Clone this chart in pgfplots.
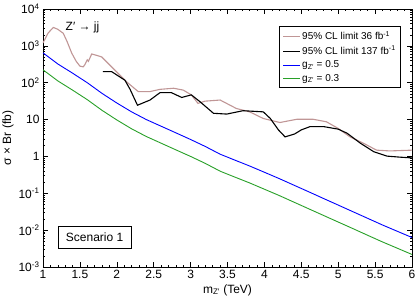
\documentclass[border=0pt]{standalone}
\usepackage{pgfplots}
\pgfplotsset{compat=1.18}
\usepackage{fontspec}
\setmainfont{Liberation Sans}
\definecolor{brownl}{RGB}{192,150,150}
\definecolor{greenl}{RGB}{40,160,40}
\begin{document}
\begin{tikzpicture}
\begin{axis}[
  scale only axis, width=369pt, height=258pt,
  xmin=1, xmax=6, ymode=log, ymin=1e-3, ymax=1e4,
  xtick={1,1.5,2,2.5,3,3.5,4,4.5,5,5.5,6},
  xticklabels={1,1.5,2,2.5,3,3.5,4,4.5,5,5.5,6},
  minor x tick num=4,
  ytick={1e-3,1e-2,1e-1,1,10,100,1000,10000},
  yticklabels={10\textsuperscript{-3},10\textsuperscript{-2},10\textsuperscript{-1},1,10,10\textsuperscript{2},10\textsuperscript{3},10\textsuperscript{4}},
  minor ytick={0.002,0.003,0.004,0.005,0.006,0.007,0.008,0.009,
    0.02,0.03,0.04,0.05,0.06,0.07,0.08,0.09,
    0.2,0.3,0.4,0.5,0.6,0.7,0.8,0.9,
    2,3,4,5,6,7,8,9,
    20,30,40,50,60,70,80,90,
    200,300,400,500,600,700,800,900,
    2000,3000,4000,5000,6000,7000,8000,9000},
  tick align=inside,
  major tick length=5pt, minor tick length=2.5pt,
  tick style={black, line width=0.5pt},
  every tick label/.append style={font=\fontsize{12}{14}\selectfont},
  /pgf/number format/assume math mode=true,
  xlabel={m\textsubscript{Z′} (TeV)},
  ylabel={σ × Br (fb)},
  xlabel style={at={(axis description cs:0.5,-0.089)}, anchor=center, font=\fontsize{12}{14}\selectfont},
  ylabel style={at={(axis description cs:-0.095,0.5)}, anchor=center, font=\fontsize{12}{14}\selectfont},
  legend style={at={(0.969,0.934)}, anchor=north east, draw=black, line width=0.6pt,
     font=\fontsize{10}{12}\selectfont, row sep=1.6pt, inner xsep=3pt, inner ysep=3.5pt,
     nodes={inner sep=1.6pt}},
  legend cell align=left,
  legend image code/.code={\draw[#1] plot coordinates {(0pt,0pt) (17pt,0pt)};},
  axis line style={line width=0.6pt},
]
\addplot[brownl, line width=1.1pt] coordinates {
(1.00,1202) (1.07,2239) (1.14,3162) (1.20,2818) (1.275,2188) (1.33,1259) (1.39,631)
(1.45,380) (1.50,282) (1.546,269) (1.57,316) (1.60,417) (1.615,380) (1.66,603)
(1.73,550) (1.795,501) (1.95,245) (2.13,107) (2.29,57.5) (2.45,57.5) (2.585,66.1)
(2.77,70.8) (2.90,63.1) (3.01,46.8) (3.10,27.5) (3.195,31.6) (3.40,33.9) (3.62,20.0)
(3.80,16.2) (3.985,10.7) (4.21,8.32) (4.44,10.2) (4.66,10.2) (4.84,8.71) (5.00,5.75)
(5.16,3.39) (5.34,2.29) (5.52,1.48) (5.70,1.41) (6.00,1.48)
};
\addlegendentry{95\% CL limit 36 fb\textsuperscript{-1}}
\addplot[black, line width=1.1pt] coordinates {
(1.81,200) (1.93,200) (2.00,162) (2.11,117) (2.18,66.1) (2.28,24.5) (2.45,33.9)
(2.585,53.7) (2.74,53.7) (2.88,39.8) (3.01,46.8) (3.13,30.2) (3.31,14.8) (3.49,14.1)
(3.71,17.4) (3.985,16.2) (4.08,10.7) (4.19,5.25) (4.28,3.39) (4.41,4.07) (4.50,5.25)
(4.62,6.46) (4.80,6.46) (5.00,5.50) (5.12,4.27) (5.30,2.29) (5.48,1.35) (5.66,1.02)
(5.84,0.955) (6.00,0.912)
};
\addlegendentry{95\% CL limit 137 fb\textsuperscript{-1}}
\addplot[blue, line width=0.9pt] coordinates {
(1.0,645.7) (1.2,323.6) (1.4,182.0) (1.6,100) (1.8,51.3) (2.0,28.2) (2.2,16.2)
(2.4,10.0) (2.6,6.61) (2.8,4.37) (3.0,2.88) (3.2,1.86) (3.4,1.15) (3.6,0.794)
(3.8,0.550) (4.0,0.372) (4.2,0.251) (4.4,0.166) (4.6,0.110) (4.8,0.0724)
(5.0,0.0479) (5.2,0.0316) (5.4,0.0209) (5.6,0.0138) (5.8,0.00933) (6.0,0.00631)
};
\addlegendentry{g\textsubscript{Z′} = 0.5}
\addplot[greenl, line width=0.9pt] coordinates {
(1.0,223.9) (1.2,112.2) (1.4,63.1) (1.6,34.7) (1.8,17.8) (2.0,9.77) (2.2,5.62)
(2.4,3.47) (2.6,2.29) (2.8,1.51) (3.0,1.00) (3.2,0.646) (3.4,0.398) (3.6,0.275)
(3.8,0.191) (4.0,0.129) (4.2,0.0871) (4.4,0.0575) (4.6,0.0380) (4.8,0.0251)
(5.0,0.0166) (5.2,0.0110) (5.4,0.00724) (5.6,0.00479) (5.8,0.00324) (6.0,0.00219)
};
\addlegendentry{g\textsubscript{Z′} = 0.3}
\node[anchor=west, font=\fontsize{12}{14}\selectfont] at (rel axis cs:0.052,0.93) {Z′ → jj};
\node[draw=black, line width=0.6pt, fill=white, font=\fontsize{12}{14}\selectfont,
      minimum width=73pt, minimum height=22pt, inner sep=2pt] at (rel axis cs:0.14,0.116) {Scenario 1};
\end{axis}
\pgfresetboundingbox
\path (-43pt,-33pt) rectangle (374pt,267pt);
\end{tikzpicture}
\end{document}
